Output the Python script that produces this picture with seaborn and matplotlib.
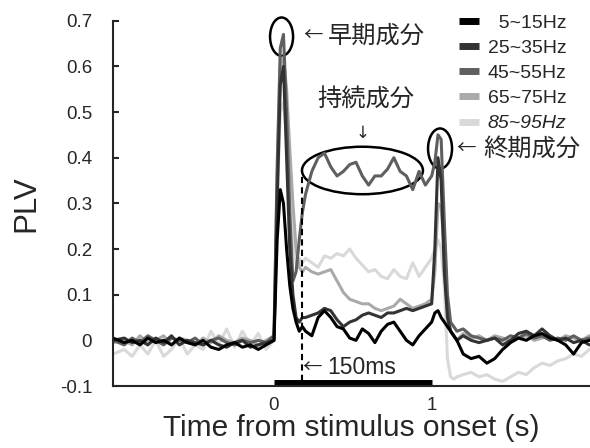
import matplotlib.pyplot as plt
import numpy as np
import pandas as pd
import seaborn as sns
from matplotlib.lines import Line2D
from matplotlib.patches import Ellipse

# time axis (s), denser around the onset / offset peaks
time_s = [
    -1.02, -0.95, -0.9, -0.85, -0.8, -0.75, -0.7, -0.65, -0.6, -0.55,
    -0.5, -0.45, -0.4, -0.35, -0.3, -0.25, -0.2, -0.15, -0.1, -0.05,
    0.0, 0.02, 0.04, 0.06, 0.08, 0.1, 0.12, 0.14, 0.16, 0.18, 0.2,
    0.24, 0.28, 0.32, 0.36, 0.4, 0.44, 0.48, 0.52, 0.56, 0.6,
    0.64, 0.68, 0.72, 0.76, 0.8, 0.84, 0.88, 0.92, 0.96,
    1.0, 1.02, 1.04, 1.06, 1.08, 1.1, 1.12, 1.14, 1.16,
    1.2, 1.25, 1.3, 1.35, 1.4, 1.45, 1.5, 1.55, 1.6, 1.65,
    1.7, 1.75, 1.8, 1.85, 1.9, 1.95, 2.0,
]

plv_5_15 = [
    0.005, -0.005, 0.0, -0.01, 0.005, -0.005, 0.0, -0.01, 0.005, -0.005,
    -0.01, 0.0, -0.015, -0.02, -0.01, -0.005, -0.015, -0.01, -0.02, -0.01,
    0.0, 0.22, 0.33, 0.3, 0.2, 0.12, 0.07, 0.04, 0.02, 0.03, 0.02,
    0.01, 0.05, 0.065, 0.05, 0.03, 0.025, 0.005, 0.0, 0.025, 0.015,
    -0.005, 0.02, 0.035, 0.04, 0.02, 0.0, -0.01, 0.01, 0.025,
    0.04, 0.06, 0.065, 0.05, 0.04, 0.03, 0.02, 0.01, 0.0,
    -0.03, -0.04, -0.035, -0.05, -0.04, -0.02, -0.005, 0.005, 0.0, 0.01,
    0.015, 0.005, 0.0, -0.01, -0.03, -0.005, 0.0,
]
plv_25_35 = [
    0.0, 0.005, -0.005, 0.0, -0.01, 0.005, -0.005, 0.01, -0.01, 0.0,
    -0.005, -0.01, 0.0, -0.01, -0.015, -0.005, 0.0, -0.015, -0.01, -0.005,
    0.0, 0.3, 0.56, 0.6, 0.4, 0.2, 0.1, 0.05, 0.04, 0.05, 0.05,
    0.055, 0.06, 0.07, 0.065, 0.045, 0.03, 0.04, 0.045, 0.055, 0.06,
    0.055, 0.05, 0.06, 0.06, 0.065, 0.07, 0.065, 0.07, 0.075,
    0.08, 0.2, 0.4, 0.35, 0.15, 0.05, 0.02, 0.01, 0.0,
    0.01, 0.0, -0.005, 0.0, 0.005, -0.01, 0.0, 0.015, 0.02, 0.01,
    0.025, 0.01, 0.0, 0.005, -0.005, 0.0, -0.01,
]
plv_45_55 = [
    0.0, -0.01, 0.005, -0.005, 0.01, 0.0, -0.01, 0.005, 0.0, -0.005,
    0.005, -0.01, 0.0, 0.005, -0.005, -0.01, 0.0, -0.005, 0.0, -0.005,
    0.01, 0.38, 0.64, 0.67, 0.5, 0.28, 0.13, 0.15, 0.22, 0.28, 0.32,
    0.37, 0.4, 0.41, 0.38, 0.36, 0.37, 0.385, 0.39, 0.36, 0.34,
    0.36, 0.36, 0.375, 0.4, 0.37, 0.36, 0.33, 0.37, 0.34,
    0.36, 0.39, 0.45, 0.44, 0.26, 0.1, 0.04, 0.03, 0.02,
    0.025, 0.01, 0.005, 0.0, 0.005, 0.0, 0.01, 0.005, 0.015, 0.005,
    0.01, 0.0, 0.005, 0.0, 0.01, 0.0, 0.005,
]
plv_65_75 = [
    -0.005, 0.0, -0.01, 0.01, -0.005, 0.0, 0.01, -0.01, 0.005, 0.0,
    -0.01, 0.005, -0.005, 0.01, 0.0, -0.005, 0.005, 0.0, -0.01, 0.0,
    0.01, 0.35, 0.6, 0.62, 0.55, 0.42, 0.3, 0.2, 0.16, 0.15, 0.16,
    0.15, 0.145, 0.15, 0.155, 0.13, 0.105, 0.09, 0.085, 0.08, 0.08,
    0.07, 0.065, 0.07, 0.075, 0.09, 0.08, 0.07, 0.075, 0.08,
    0.09, 0.15, 0.3, 0.29, 0.2, 0.07, 0.02, 0.01, 0.0,
    0.015, 0.005, 0.01, 0.0, 0.01, 0.005, 0.0, 0.005, 0.01, 0.0,
    0.005, 0.01, 0.0, 0.01, 0.005, 0.0, 0.01,
]
plv_85_95 = [
    -0.03, -0.02, -0.035, -0.01, -0.03, 0.0, -0.035, -0.02, 0.005, -0.03,
    -0.01, -0.02, 0.02, -0.01, 0.025, -0.015, 0.02, -0.01, 0.015, -0.02,
    0.0, 0.3, 0.5, 0.52, 0.45, 0.33, 0.22, 0.17, 0.18, 0.17, 0.18,
    0.17, 0.16, 0.185, 0.18, 0.19, 0.185, 0.2, 0.18, 0.165, 0.15,
    0.155, 0.14, 0.135, 0.155, 0.14, 0.135, 0.17, 0.14, 0.16,
    0.18, 0.2, 0.22, 0.2, 0.12, -0.04, -0.08, -0.085, -0.08,
    -0.075, -0.07, -0.08, -0.075, -0.085, -0.09, -0.08, -0.07, -0.075, -0.06,
    -0.05, -0.055, -0.045, -0.04, -0.03, -0.035, -0.02,
]

bands = ["5~15Hz", "25~35Hz", "45~55Hz", "65~75Hz", "85~95Hz"]
band_colors = ["#000000", "#333333", "#5f5f5f", "#aaaaaa", "#d9d9d9"]
legend_labels = ["  5~15Hz", "25~35Hz", "45~55Hz", "65~75Hz", "85~95Hz"]

df = pd.DataFrame({
    "time": np.tile(time_s, len(bands)),
    "plv": np.concatenate([plv_5_15, plv_25_35, plv_45_55, plv_65_75, plv_85_95]),
    "band": np.repeat(bands, len(time_s)),
})

sns.set_style("ticks")
plt.rcParams["font.family"] = ["Liberation Sans", "DejaVu Sans"]
cjk = ["Noto Sans CJK JP", "DejaVu Sans"]

fig = plt.figure(figsize=(5.9, 4.48), dpi=100)
ax = fig.add_axes([113 / 590, 1 - 386 / 448, 1 - 113 / 590, (386 - 20.7) / 448])

sns.lineplot(data=df, x="time", y="plv", hue="band", hue_order=bands[::-1],
             palette=dict(zip(bands, band_colors)), estimator=None, sort=False,
             lw=2.2, legend=False, ax=ax)

ax.set_xlim(-1.021, 2.004)
ax.set_ylim(-0.1, 0.7)
ax.set_xticks([0, 1])
ax.set_xticklabels(["0", "1"])
ax.set_yticks(np.arange(-0.1, 0.71, 0.1))
ax.set_yticklabels(["-0.1", "0", "0.1", "0.2", "0.3", "0.4", "0.5", "0.6", "0.7"])
ax.tick_params(axis="x", length=0, pad=8, labelsize=13.5)
ax.tick_params(axis="y", direction="in", length=4.5, width=1.5, pad=15, labelsize=13.5)
ax.set_xlabel("Time from stimulus onset (s)", fontsize=21.5, labelpad=0)
ax.set_ylabel("PLV", fontsize=22.5, labelpad=13)
sns.despine(ax=ax)
for s in ("left", "bottom"):
    ax.spines[s].set_linewidth(1.5)

# stimulus bar and 150 ms marker
ax.plot([0, 1], [-0.093, -0.093], color="black", lw=5, solid_capstyle="butt", clip_on=False)
ax.plot([0.178, 0.178], [-0.09, 0.36], color="black", lw=1.5, ls=(0, (3, 2)))
ax.text(0.18, -0.06, "←", family=cjk, fontsize=14, va="center", ha="left")
ax.text(0.336, -0.06, "150ms", fontsize=16.5, va="center", ha="left")

# circled components
for cx, cy, w, h in [(0.048, 0.665, 0.146, 0.084), (0.561, 0.372, 0.767, 0.104), (1.053, 0.42, 0.152, 0.088)]:
    ax.add_patch(Ellipse((cx, cy), w, h, fill=False, ec="black", lw=1.8, clip_on=False))

ax.text(0.184, 0.667, "←", family=cjk, fontsize=14, va="center", ha="left")
ax.text(0.343, 0.667, "早期成分", family=cjk, fontsize=17.5, va="center", ha="left")
ax.text(0.58, 0.526, "持続成分", family=cjk, fontsize=17.5, va="center", ha="center")
ax.text(0.564, 0.455, "↓", family=["DejaVu Sans"], fontsize=12, va="center", ha="center")
ax.text(1.158, 0.42, "←", family=cjk, fontsize=14, va="center", ha="left")
ax.text(1.325, 0.42, "終期成分", family=cjk, fontsize=17.5, va="center", ha="left")

handles = [Line2D([], [], color=c, lw=5, solid_capstyle="butt") for c in band_colors]
leg = ax.legend(handles, legend_labels, loc="upper left", bbox_to_anchor=(459 / 590, 1 - 14 / 448),
                bbox_transform=fig.transFigure, frameon=False, fontsize=14, handlelength=1.03,
                handletextpad=0.46, labelspacing=0.39, borderpad=0, borderaxespad=0)
leg.get_texts()[4].set_style("italic")

fig.savefig("out.png", dpi=100)
